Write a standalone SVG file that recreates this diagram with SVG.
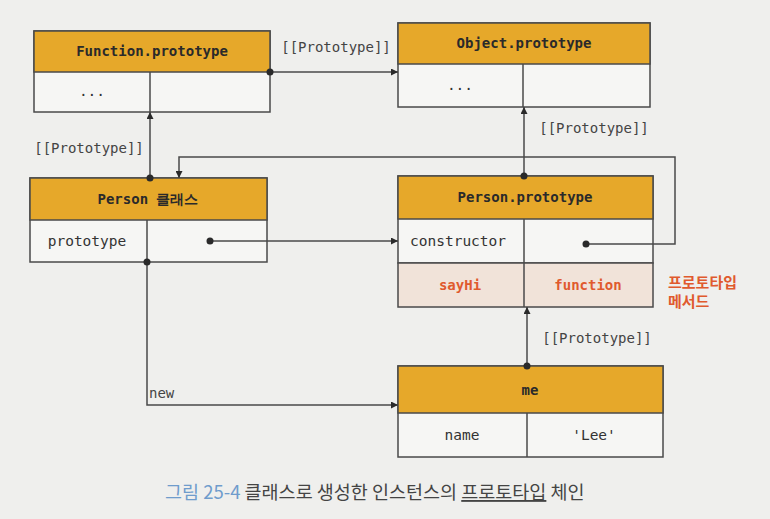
<svg xmlns="http://www.w3.org/2000/svg" width="770" height="519" viewBox="0 0 770 519">
<style>
.hdr{fill:#e6a82a;stroke:#4a4a4a;stroke-width:1.5}
.body{fill:#f6f6f4;stroke:#4a4a4a;stroke-width:1.5}
.meth{fill:#f1e3d9;stroke:#4a4a4a;stroke-width:1.5}
.div{stroke:#4a4a4a;stroke-width:1.5}
.t{font-family:"DejaVu Sans Mono","Liberation Mono",monospace;font-size:14.5px;fill:#333}
.b{font-weight:bold;fill:#2a2a2a;font-size:14px}
.red{font-weight:bold;fill:#e05a2e;font-size:14px}
.c{text-anchor:middle}
.lbl{font-family:"DejaVu Sans Mono","Liberation Mono",monospace;font-size:14px;fill:#444}
.con{fill:none;stroke:#4a4a4a;stroke-width:1.5}
.dot{fill:#2a2a2a}
</style>
<defs>
<marker id="arr" viewBox="0 0 10 10" refX="10" refY="5" markerWidth="7" markerHeight="7" orient="auto" markerUnits="userSpaceOnUse">
<path d="M0,0 L10,5 L0,10 z" fill="#2a2a2a"/>
</marker>
</defs>
<rect width="770" height="519" fill="#efefed"/>

<g id="function-prototype">
<rect class="body" x="34" y="31" width="236" height="81"/>
<rect class="hdr" x="34" y="31" width="236" height="41"/>
<line class="div" x1="150" y1="72" x2="150" y2="112"/>
<text class="t b c" x="152" y="56">Function.prototype</text>
<text class="t c" x="92" y="96">...</text>
</g>

<g id="object-prototype">
<rect class="body" x="398" y="23" width="252" height="84"/>
<rect class="hdr" x="398" y="23" width="252" height="41"/>
<line class="div" x1="523" y1="64" x2="523" y2="107"/>
<text class="t b c" x="524" y="48">Object.prototype</text>
<text class="t c" x="460" y="90">...</text>
</g>

<g id="person-class">
<rect class="body" x="30" y="178" width="237" height="84"/>
<rect class="hdr" x="30" y="178" width="237" height="42"/>
<line class="div" x1="147" y1="220" x2="147" y2="262"/>
<text class="t b c" x="148" y="204" font-family="DejaVu Sans Mono, Noto Sans CJK KR, monospace">Person 클래스</text>
<text class="t c" x="87" y="246">prototype</text>
</g>

<g id="person-prototype">
<rect class="body" x="398" y="176" width="255" height="87"/>
<rect class="hdr" x="398" y="176" width="255" height="43"/>
<rect class="meth" x="398" y="263" width="255" height="44"/>
<line class="div" x1="524" y1="219" x2="524" y2="307"/>
<text class="t b c" x="525" y="202">Person.prototype</text>
<text class="t" x="410" y="246">constructor</text>
<text class="t red c" x="460" y="290">sayHi</text>
<text class="t red c" x="588" y="290">function</text>
<text x="668" y="288" font-family="Noto Sans CJK KR, sans-serif" font-size="15" font-weight="bold" fill="#e05a2e">프로토타입</text>
<text x="668" y="307" font-family="Noto Sans CJK KR, sans-serif" font-size="15" font-weight="bold" fill="#e05a2e">메서드</text>
</g>

<g id="me">
<rect class="body" x="398" y="366" width="265" height="91"/>
<rect class="hdr" x="398" y="366" width="265" height="47"/>
<line class="div" x1="527" y1="413" x2="527" y2="457"/>
<text class="t b c" x="530" y="395">me</text>
<text class="t c" x="462" y="440">name</text>
<text class="t c" x="594" y="440">'Lee'</text>
</g>

<g id="connectors">
<path class="con" d="M270,72 H398" marker-end="url(#arr)"/>
<circle class="dot" cx="270" cy="72" r="3.5"/>
<text class="lbl c" x="336" y="52">[[Prototype]]</text>

<path class="con" d="M150,178 V112" marker-end="url(#arr)"/>
<circle class="dot" cx="150" cy="178" r="3.5"/>
<text class="lbl c" x="89" y="153">[[Prototype]]</text>

<path class="con" d="M524,176 V107" marker-end="url(#arr)"/>
<circle class="dot" cx="524" cy="176" r="3.5"/>
<text class="lbl c" x="594" y="133">[[Prototype]]</text>

<path class="con" d="M527,366 V307" marker-end="url(#arr)"/>
<circle class="dot" cx="527" cy="366" r="3.5"/>
<text class="lbl c" x="597" y="343">[[Prototype]]</text>

<path class="con" d="M210,241 H398" marker-end="url(#arr)"/>
<circle class="dot" cx="210" cy="241" r="3.5"/>

<path class="con" d="M586,244 H675 V157 H179 V178" marker-end="url(#arr)"/>
<circle class="dot" cx="586" cy="244" r="3.5"/>

<path class="con" d="M147,262 V405 H398" marker-end="url(#arr)"/>
<circle class="dot" cx="147" cy="262" r="3.5"/>
<text class="lbl" x="149" y="398">new</text>
</g>

<g id="caption" font-family="Noto Sans CJK KR, sans-serif" font-size="18.5">
<text x="165" y="499"><tspan fill="#6f9ccc">그림 25-4</tspan><tspan fill="#444"> 클래스로 생성한 인스턴스의 <tspan text-decoration="underline">프로토타입</tspan> 체인</tspan></text>
</g>
</svg>
